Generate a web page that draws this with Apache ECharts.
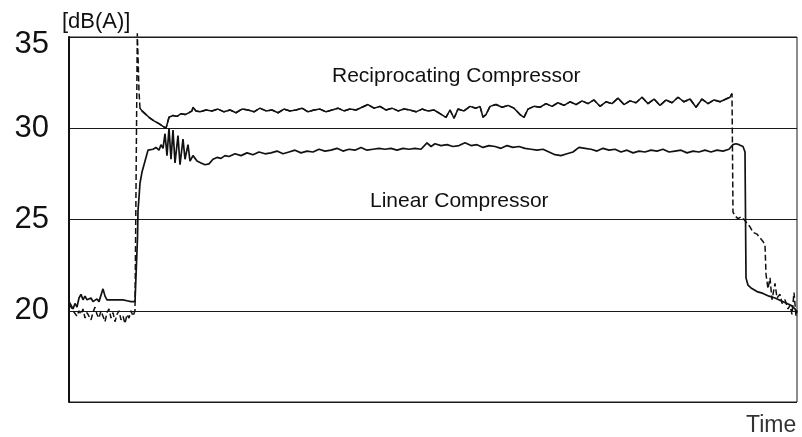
<!DOCTYPE html>
<html lang="en">
<head>
    <meta charset="UTF-8">
    <title>Compressor noise</title>
    <script src="https://cdn.jsdelivr.net/npm/echarts@6/dist/echarts.min.js"></script>
    <style>
        html, body { margin: 0; padding: 0; background: #fff; }
        #chart1 { width: 802px; height: 437px; }
    </style>
</head>
<body>
<div id="chart1"></div>
<script type="text/javascript">
    // y ticks shown on the left
    var yTicks = [15, 20, 25, 30, 35];

    // reciprocating compressor: [time, dB(A)]
    var recip = [
        [0, 20.4], [2, 20.2], [4, 20.0], [6, 19.9], [8, 19.7], [10, 20.0], [12, 19.8], [14, 20.1], [16, 19.6],
        [18, 19.9], [20, 20.0], [22, 19.5], [24, 19.9], [26, 20.2], [28, 19.8], [30, 19.6], [32, 20.0], [34, 19.7],
        [36, 19.4], [38, 19.9], [40, 20.1], [42, 19.6], [44, 19.9], [46, 19.4], [48, 19.8], [50, 20.0], [52, 19.5],
        [54, 19.7], [56, 19.3], [58, 19.8], [60, 19.6], [62, 20.0], [64, 19.7], [66, 20.0], [68, 19.9],
        [68.3, 35.2], [69, 34.0], [69.5, 33.0], [70, 32.0], [71, 31.1], [73, 30.95], [76, 30.8], [80, 30.6],
        [85, 30.4], [90, 30.25], [94, 30.1], [97, 30.0], [99, 30.1], [100, 30.6], [104, 30.7], [108, 30.65],
        [112, 30.8], [116, 30.75], [120, 30.85], [123, 30.95], [124, 31.15], [127, 30.95], [131, 30.9],
        [137, 31.0], [143, 30.95], [149, 31.05], [155, 30.9], [161, 31.0], [167, 30.85], [173, 31.05], [179, 31.0],
        [185, 30.9], [191, 31.1], [197, 30.95], [203, 31.0], [209, 30.85], [215, 31.05], [221, 30.95], [227, 31.0],
        [233, 31.1], [239, 30.9], [245, 31.0], [251, 31.05], [257, 30.9], [263, 31.0], [269, 31.1], [275, 30.95],
        [281, 31.05], [287, 31.0], [293, 31.15], [299, 31.3], [305, 31.1], [311, 31.2], [317, 31.0], [323, 31.1],
        [329, 30.95], [335, 31.05], [341, 31.0], [347, 30.9], [353, 31.05], [359, 30.95], [365, 31.0], [371, 30.8],
        [377, 30.6], [381, 31.0], [385, 30.55], [389, 31.05], [395, 30.95], [401, 31.2], [407, 31.1], [411, 31.2],
        [414, 30.6], [417, 30.75], [421, 31.2], [427, 31.3], [433, 31.15], [439, 31.25], [445, 31.1], [451, 30.75],
        [455, 30.6], [459, 31.05], [465, 31.2], [471, 31.15], [477, 31.35], [483, 31.2], [489, 31.4], [495, 31.25],
        [501, 31.45], [507, 31.3], [513, 31.5], [519, 31.35], [525, 31.55], [531, 31.2], [537, 31.45], [543, 31.35],
        [549, 31.65], [555, 31.3], [561, 31.5], [567, 31.4], [573, 31.7], [579, 31.35], [585, 31.6], [591, 31.25],
        [597, 31.55], [603, 31.4], [609, 31.7], [615, 31.45], [621, 31.6], [627, 31.15], [633, 31.6], [639, 31.35],
        [645, 31.55], [651, 31.45], [657, 31.6], [661, 31.7], [663, 31.9],
        [664, 25.4], [666, 25.2], [669, 25.05], [672, 25.15], [675, 25.0], [678, 24.8], [681, 24.6], [684, 24.3],
        [688, 24.2], [691, 24.0], [694, 23.8], [696, 23.6], [697, 22.0], [699, 21.2], [701, 21.8], [703, 20.6],
        [706, 21.5], [708, 20.7], [711, 20.9], [713, 20.4], [716, 20.6], [719, 20.1], [721, 20.3], [723, 19.8],
        [725, 21.0], [727, 19.7], [728, 20.0]
    ];

    // linear compressor: [time, dB(A)]
    var linear = [
        [0, 20.5], [2, 20.3], [4, 20.1], [6, 20.4], [8, 20.2], [10, 20.7], [12, 20.9], [14, 20.6], [16, 20.8],
        [18, 20.6], [20, 20.55], [22, 20.7], [24, 20.5], [26, 20.6], [28, 20.65], [30, 20.5], [32, 20.6], [34, 21.2],
        [36, 20.8], [38, 20.6], [40, 20.5], [42, 20.6], [44, 20.55], [46, 20.6], [48, 20.5], [50, 20.6], [52, 20.55],
        [54, 20.6], [56, 20.5], [58, 20.55], [60, 20.5], [62, 20.5], [64, 20.55], [66, 20.5], [68, 20.5],
        [68.5, 24.0], [69, 25.5], [70, 26.2], [71, 27.0], [73, 27.6], [75, 28.0], [77, 28.4], [79, 28.8], [81, 28.9],
        [84, 28.85], [87, 28.95], [90, 28.8], [92, 29.1], [94, 28.9], [96, 29.7], [98, 28.5], [100, 30.0],
        [102, 28.3], [104, 29.9], [106, 28.1], [109, 29.6], [111, 28.0], [114, 29.4], [116, 28.3], [119, 29.1],
        [121, 28.2], [124, 28.5], [128, 28.2], [132, 28.1], [136, 28.0], [140, 28.05],
        [144, 28.3], [148, 28.4], [152, 28.35], [156, 28.5], [160, 28.45], [166, 28.6], [172, 28.5], [178, 28.65],
        [184, 28.55], [190, 28.7], [196, 28.6], [202, 28.65], [208, 28.75], [214, 28.6], [220, 28.7], [226, 28.8],
        [232, 28.65], [238, 28.75], [244, 28.7], [250, 28.85], [256, 28.75], [262, 28.8], [268, 28.9], [274, 28.75],
        [280, 28.85], [286, 28.8], [292, 28.95], [298, 28.8], [304, 28.85], [310, 28.9], [316, 28.85], [322, 28.9],
        [328, 28.8], [334, 28.9], [340, 28.85], [346, 28.9], [352, 28.85], [358, 29.2], [362, 29.0], [366, 29.15],
        [372, 29.05], [378, 29.1], [384, 29.0], [390, 29.05], [396, 29.2], [402, 29.05], [408, 29.1], [414, 28.95],
        [420, 29.05], [426, 29.0], [432, 28.9], [438, 29.05], [444, 28.95], [450, 29.0], [456, 28.9], [462, 28.85],
        [468, 28.8], [474, 28.85], [480, 28.7], [486, 28.55], [492, 28.5], [498, 28.6], [504, 28.7], [510, 28.95],
        [516, 28.9], [522, 28.85], [528, 28.75], [534, 28.9], [540, 28.8], [546, 28.85], [552, 28.7], [558, 28.8],
        [564, 28.65], [570, 28.75], [576, 28.7], [582, 28.8], [588, 28.75], [594, 28.85], [600, 28.7], [606, 28.75],
        [612, 28.8], [618, 28.65], [624, 28.75], [630, 28.7], [636, 28.8], [642, 28.7], [648, 28.8], [654, 28.75],
        [660, 28.85], [664, 29.1], [667, 29.15], [670, 29.1], [674, 29.0], [676, 28.7],
        [677, 21.8], [679, 21.4], [682, 21.25], [688, 21.05], [694, 20.95], [700, 20.8], [706, 20.7], [712, 20.55],
        [718, 20.4], [722, 20.3], [726, 20.1], [728, 19.95]
    ];

    var chart1 = echarts.init(document.getElementById('chart1'));

    // solid middle part of the reciprocating trace, the rest is dashed
    var recipSolid = recip.filter(function (p) {
        return p[0] >= 71 && p[0] <= 663;
    });

    chart1.setOption({
        animation: false,
        backgroundColor: '#fff',
        grid: {
            left: 69, right: 5, top: 37, bottom: 35,
            show: true,
            borderColor: '#1a1a1a',
            borderWidth: 1,
            outerBoundsMode: 'none'
        },
        xAxis: {
            type: 'value',
            min: 0,
            max: 728,
            axisLine: {show: false},
            axisTick: {show: false},
            axisLabel: {show: false},
            splitLine: {show: false}
        },
        yAxis: {
            type: 'value',
            min: yTicks[0],
            max: yTicks[yTicks.length - 1],
            interval: 5,
            axisLine: {show: true, lineStyle: {color: '#111', width: 2}},
            axisTick: {show: false},
            axisLabel: {
                margin: 20,
                color: '#111',
                fontFamily: 'Liberation Sans',
                fontSize: 31,
                formatter: function (v) {
                    if (v === yTicks[0]) return '';
                    if (v === 35) return '{top|' + v + '}';
                    return '' + v;
                },
                rich: {
                    top: {fontFamily: 'Liberation Sans', fontSize: 31, color: '#111', padding: [14, 0, 0, 0]}
                }
            },
            splitLine: {show: true, lineStyle: {color: '#1a1a1a', width: 1}}
        },
        graphic: [
            {type: 'text', left: 62, top: 11, style: {text: '[dB(A)]', font: '22px Liberation Sans', fill: '#111'}},
            {type: 'text', left: 746, top: 414, style: {text: 'Time', font: '23px Liberation Sans', fill: '#333'}},
            {type: 'text', left: 332, top: 66, style: {text: 'Reciprocating Compressor', font: '21px Liberation Sans', fill: '#111'}},
            {type: 'text', left: 370, top: 191, style: {text: 'Linear Compressor', font: '21px Liberation Sans', fill: '#111'}}
        ],
        series: [
            {
                name: 'Reciprocating Compressor',
                type: 'line',
                data: recip,
                symbol: 'none',
                clip: false,
                lineStyle: {color: '#111', width: 1.5, type: [6, 3]}
            },
            {
                name: 'Reciprocating Compressor solid',
                type: 'line',
                data: recipSolid,
                symbol: 'none',
                lineStyle: {color: '#111', width: 1.5}
            },
            {
                name: 'Linear Compressor',
                type: 'line',
                data: linear,
                symbol: 'none',
                lineStyle: {color: '#111', width: 1.7}
            }
        ]
    });
</script>
</body>
</html>
